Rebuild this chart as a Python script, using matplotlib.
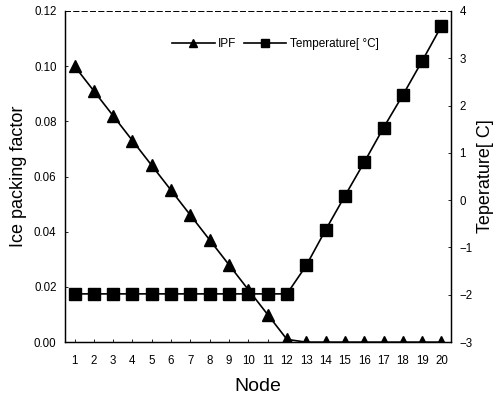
import numpy as np
import matplotlib.pyplot as plt

plt.rcParams['font.family'] = ['Liberation Sans', 'DejaVu Sans']

nodes = list(range(1, 21))
ipf = [0.100, 0.091, 0.082, 0.073, 0.064, 0.055, 0.046, 0.037, 0.028, 0.019,
       0.010, 0.001, 0.0, 0.0, 0.0, 0.0, 0.0, 0.0, 0.0, 0.0]
temp = [-1.98, -1.98, -1.98, -1.98, -1.98, -1.98, -1.98, -1.98, -1.98, -1.98,
        -1.98, -1.98, -1.38, -0.63, 0.09, 0.80, 1.53, 2.22, 2.94, 3.68]

fig = plt.figure(figsize=(4.99, 4.03), dpi=100)
ax = fig.add_axes([0.130, 0.151, 0.774, 0.822])
ax2 = ax.twinx()

l1, = ax.plot(nodes, ipf, color='black', lw=1.2, marker='^', ms=8, label='IPF')
l2, = ax2.plot(nodes, temp, color='black', lw=1.2, marker='s', ms=8,
               label='Temperature[ \u00b0C]')

ax.set_xlim(0.5, 20.5)
ax.set_ylim(0, 0.12)
ax2.set_ylim(-3, 4)
ax.set_xticks(nodes)
ax.set_yticks(np.arange(0, 0.121, 0.02))
ax.set_yticklabels(['%.2f' % v for v in np.arange(0, 0.121, 0.02)])
ax2.set_yticks(range(-3, 5))

for a in (ax, ax2):
    a.tick_params(direction='in', length=2, width=0.6, labelsize=8.3, pad=6)
    for s in a.spines.values():
        s.set_linewidth(0.9)
    a.spines['top'].set_linestyle((0, (6, 4)))
    a.spines['top'].set_linewidth(0.6)
ax.tick_params(axis='x', pad=9)

ax.set_xlabel('Node', fontsize=14, labelpad=8)
ax.set_ylabel('Ice packing factor', fontsize=13, labelpad=5)
ax2.set_ylabel('Teperature[ C]', fontsize=13, labelpad=3)

leg = ax.legend(handles=[l1, l2], loc='center', bbox_to_anchor=(0.545, 0.90),
                ncol=2, frameon=False, fontsize=8.5, handlelength=3.6,
                columnspacing=0.6, handletextpad=0.3, markerscale=0.8)

fig.savefig('out.png', dpi=100)
